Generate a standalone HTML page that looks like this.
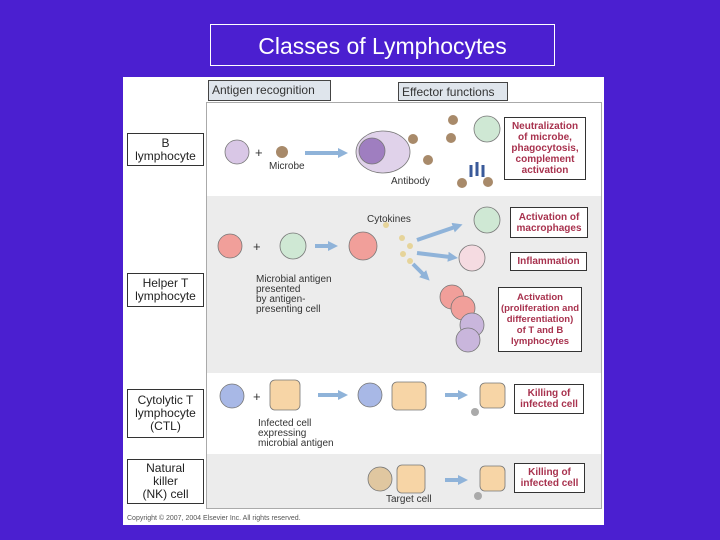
<!DOCTYPE html>
<html><head><meta charset="utf-8"><style>
body{margin:0;width:720px;height:540px;background:#4b1fd0;position:relative;overflow:hidden;font-family:"Liberation Sans",sans-serif}
.a{position:absolute}
.t{position:absolute;left:210px;top:24px;width:343px;height:40px;border:1px solid #fff;color:#fff;font-size:23px;text-align:center;line-height:42px}
.lb{position:absolute;background:#fff;border:1px solid #333;font-size:12px;text-align:center;line-height:13px;color:#222;display:flex;align-items:center;justify-content:center}
.rb{position:absolute;background:#fff;border:1px solid #333;font-size:10px;font-weight:bold;text-align:center;line-height:11px;color:#a8324e;display:flex;align-items:center;justify-content:center;white-space:nowrap}
.hb{position:absolute;background:#dfe5ec;border:1px solid #444;font-size:12px;color:#333;line-height:18px;padding-left:3px}
.s{position:absolute;font-size:10px;color:#333;line-height:10px}
</style></head><body>
<div class="t">Classes of Lymphocytes</div>
<div class="a" style="left:123px;top:77px;width:481px;height:448px;background:#fff"></div>
<div class="a" style="left:206px;top:102px;width:396px;height:407px;border:1px solid #aaa;box-sizing:border-box;background:#fff"></div>
<div class="a" style="left:207px;top:196px;width:394px;height:177px;background:#ececec"></div>
<div class="a" style="left:207px;top:454px;width:394px;height:54px;background:#ececec"></div>
<div class="hb" style="left:208px;top:80px;width:118px;height:19px">Antigen recognition</div>
<div class="hb" style="left:398px;top:82px;width:105px;height:17px">Effector functions</div>
<div class="lb" style="left:127px;top:133px;width:75px;height:31px">B<br>lymphocyte</div>
<div class="lb" style="left:127px;top:273px;width:75px;height:32px">Helper T<br>lymphocyte</div>
<div class="lb" style="left:127px;top:389px;width:75px;height:47px">Cytolytic T<br>lymphocyte<br>(CTL)</div>
<div class="lb" style="left:127px;top:459px;width:75px;height:43px">Natural<br>killer<br>(NK) cell</div>
<div class="rb" style="left:504px;top:117px;width:80px;height:61px">Neutralization<br>of microbe,<br>phagocytosis,<br>complement<br>activation</div>
<div class="rb" style="left:510px;top:207px;width:76px;height:29px">Activation of<br>macrophages</div>
<div class="rb" style="left:510px;top:252px;width:75px;height:17px">Inflammation</div>
<div class="rb" style="left:498px;top:287px;width:82px;height:63px;font-size:9.5px">Activation<br>(proliferation and<br>differentiation)<br>of T and B<br>lymphocytes</div>
<div class="rb" style="left:514px;top:384px;width:68px;height:28px">Killing of<br>infected cell</div>
<div class="rb" style="left:514px;top:463px;width:69px;height:28px">Killing of<br>infected cell</div>
<div class="s" style="left:269px;top:162px">Microbe</div>
<div class="s" style="left:391px;top:177px">Antibody</div>
<div class="s" style="left:367px;top:215px">Cytokines</div>
<div class="s" style="left:256px;top:275px">Microbial antigen<br>presented<br>by antigen-<br>presenting cell</div>
<div class="s" style="left:258px;top:419px">Infected cell<br>expressing<br>microbial antigen</div>
<div class="s" style="left:386px;top:495px">Target cell</div>
<div class="s" style="left:127px;top:514px;font-size:7px;color:#555">Copyright © 2007, 2004 Elsevier Inc. All rights reserved.</div>
<svg class="a" style="left:0;top:0" width="720" height="540">
<defs><marker id="m" markerUnits="userSpaceOnUse" markerWidth="10" markerHeight="10" refX="2" refY="5" orient="auto"><path d="M0,0L10,5L0,10z" fill="#8fb3d9"/></marker></defs>
<g stroke="#8fb3d9" stroke-width="4" marker-end="url(#m)" fill="none">
<line x1="305" y1="153" x2="340" y2="153"/><line x1="315" y1="246" x2="330" y2="246"/>
<line x1="417" y1="240" x2="455" y2="227"/><line x1="417" y1="253" x2="450" y2="257"/>
<line x1="413" y1="264" x2="424" y2="275"/><line x1="318" y1="395" x2="340" y2="395"/>
<line x1="445" y1="395" x2="460" y2="395"/><line x1="445" y1="480" x2="460" y2="480"/>
</g>
<g stroke="#777" stroke-width="0.8">
<circle cx="237" cy="152" r="12" fill="#d9c7e6"/>
<ellipse cx="383" cy="152" rx="27" ry="21" fill="#e0d2ea"/><circle cx="372" cy="151" r="13" fill="#9f7ec0"/>
<circle cx="487" cy="129" r="13" fill="#cfe8d4"/><circle cx="487" cy="220" r="13" fill="#cfe8d4"/>
<circle cx="293" cy="246" r="13" fill="#cfe8d4"/><circle cx="472" cy="258" r="13" fill="#f5dbe1"/>
<circle cx="230" cy="246" r="12" fill="#f19f9a"/><circle cx="363" cy="246" r="14" fill="#f19f9a"/>
<circle cx="452" cy="297" r="12" fill="#f19f9a"/><circle cx="463" cy="308" r="12" fill="#f19f9a"/>
<circle cx="472" cy="325" r="12" fill="#c9b6dc"/><circle cx="468" cy="340" r="12" fill="#c9b6dc"/>
<circle cx="232" cy="396" r="12" fill="#a8b8e6"/><circle cx="370" cy="395" r="12" fill="#a8b8e6"/>
<rect x="270" y="380" width="30" height="30" rx="5" fill="#f7d5a6"/><rect x="392" y="382" width="34" height="28" rx="5" fill="#f7d5a6"/>
<rect x="480" y="383" width="25" height="25" rx="5" fill="#f7d5a6"/><rect x="480" y="466" width="25" height="25" rx="5" fill="#f7d5a6"/>
<circle cx="380" cy="479" r="12" fill="#e0c7a0"/><rect x="397" y="465" width="28" height="28" rx="5" fill="#f7d5a6"/>
</g>
<g fill="#a88a6a"><circle cx="282" cy="152" r="6"/><circle cx="413" cy="139" r="5"/><circle cx="428" cy="160" r="5"/><circle cx="453" cy="120" r="5"/><circle cx="451" cy="138" r="5"/><circle cx="462" cy="183" r="5"/><circle cx="488" cy="182" r="5"/><circle cx="475" cy="412" r="4" fill="#aaa"/><circle cx="478" cy="496" r="4" fill="#aaa"/></g>
<path d="M477 162v14M471 165v12M483 165v12" stroke="#3a5a9a" stroke-width="3"/>
<g fill="#e6d49a"><circle cx="402" cy="238" r="3"/><circle cx="410" cy="246" r="3"/><circle cx="403" cy="254" r="3"/><circle cx="410" cy="261" r="3"/><circle cx="386" cy="225" r="3"/></g>
<text x="255" y="157" font-size="13" font-family="Liberation Sans" fill="#333">+</text>
<text x="253" y="251" font-size="13" font-family="Liberation Sans" fill="#333">+</text>
<text x="253" y="401" font-size="13" font-family="Liberation Sans" fill="#333">+</text>
</svg>
</body></html>
